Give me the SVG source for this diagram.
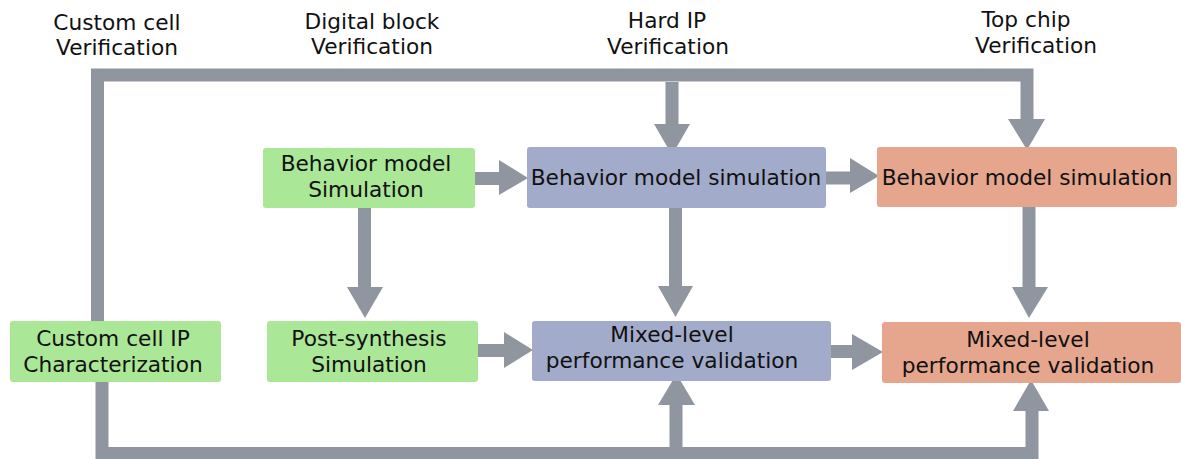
<svg xmlns="http://www.w3.org/2000/svg" width="1181" height="459" viewBox="0 0 1181 459">
<style>
text{font-family:"DejaVu Sans",sans-serif;font-size:21.7px;fill:#111;text-anchor:middle}
.g{fill:#aae797}.b{fill:#a3abcb}.o{fill:#e5a68d}
.w{fill:none;stroke:#8f96a0;stroke-width:13}
.h{fill:#8f96a0}
</style>
<rect width="1181" height="459" fill="#fff"/>
<g id="labels">
<text x="117" y="30">Custom cell</text><text x="117" y="55">Verification</text>
<text x="372" y="29">Digital block</text><text x="372" y="54">Verification</text>
<text x="667" y="28">Hard IP</text><text x="668" y="54">Verification</text>
<text x="1026" y="27">Top chip</text><text x="1036" y="53">Verification</text>
</g>
<g id="connectors">
<path class="w" d="M97.5,321 V75 H1027 V122"/>
<polygon class="h" points="1008,119 1045,119 1027,150"/>
<path class="w" d="M672,82 V126"/>
<polygon class="h" points="654,124 690,124 672,155"/>
<path class="w" d="M475,178.5 H501"/>
<polygon class="h" points="499,160 528,178 499,195"/>
<path class="w" d="M826,178 H852"/>
<polygon class="h" points="850,158 879,176 850,193"/>
<path class="w" d="M364.5,208 V289"/>
<polygon class="h" points="347,287 383,287 365,318"/>
<path class="w" d="M675.5,208 V288"/>
<polygon class="h" points="658,286 693,286 675.5,317"/>
<path class="w" d="M1029,207 V289"/>
<polygon class="h" points="1012,287 1048,287 1029,318"/>
<path class="w" d="M478,350.5 H506"/>
<polygon class="h" points="504,332 533,350 504,368"/>
<path class="w" d="M831,351.5 H854"/>
<polygon class="h" points="852,334 883,352 852,370"/>
<path class="w" d="M102,382 V453.5 H1032 V409"/>
<polygon class="h" points="1013,411 1049,411 1031,380"/>
<path class="w" d="M676,453 V403"/>
<polygon class="h" points="658,405 695,405 676.5,374"/>
</g>
<g id="n-bm-green"><rect class="g" x="263" y="148" width="212" height="60" rx="3"/><text x="366" y="171">Behavior model</text><text x="366" y="197">Simulation</text></g>
<g id="n-bm-blue"><rect class="b" x="527" y="147" width="299" height="61" rx="3"/><text x="676" y="185">Behavior model simulation</text></g>
<g id="n-bm-orange"><rect class="o" x="877" y="147" width="300" height="60" rx="3"/><text x="1027" y="185">Behavior model simulation</text></g>
<g id="n-custom"><rect class="g" x="10" y="321" width="211" height="61" rx="3"/><text x="113" y="346">Custom cell IP</text><text x="113" y="372">Characterization</text></g>
<g id="n-post"><rect class="g" x="267" y="321" width="211" height="61" rx="3"/><text x="369" y="346">Post-synthesis</text><text x="369" y="372">Simulation</text></g>
<g id="n-mixed-blue"><rect class="b" x="532" y="321" width="299" height="60" rx="3"/><text x="672" y="342">Mixed-level</text><text x="672" y="368">performance validation</text></g>
<g id="n-mixed-orange"><rect class="o" x="882" y="322" width="299" height="61" rx="3"/><text x="1028" y="347">Mixed-level</text><text x="1028" y="373">performance validation</text></g>
</svg>
